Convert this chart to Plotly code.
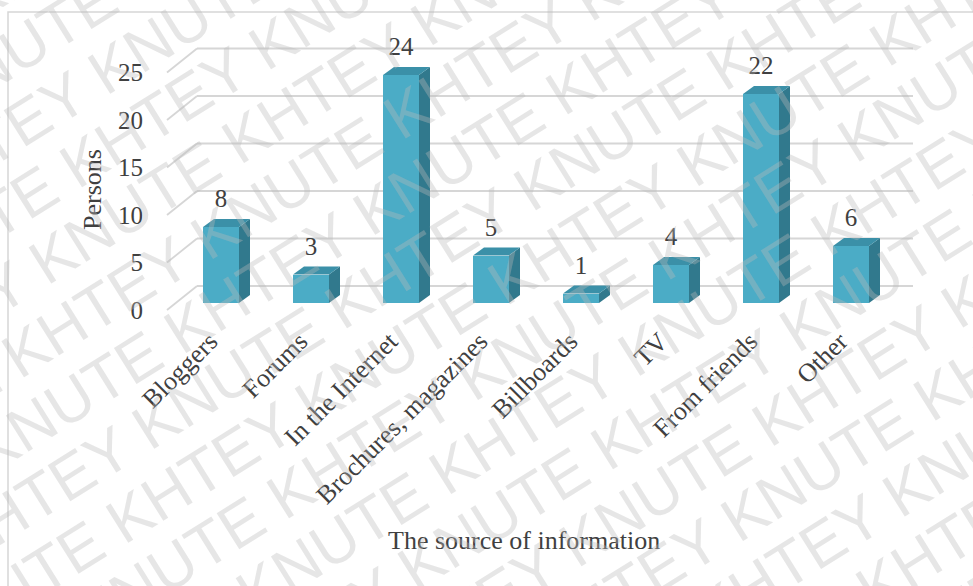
import math
import plotly.graph_objects as go

# ---------------- data ----------------
categories = ["Bloggers", "Forums", "In the Internet", "Brochures, magazines",
              "Billboards", "TV", "From friends", "Other"]
persons = [8, 3, 24, 5, 1, 4, 22, 6]
y_ticks = [0, 5, 10, 15, 20, 25]
y_title = "Persons"
x_title = "The source of information"
watermark_word = "KHTEY KNUTE"

# ---------------- geometry (pixels) ----------------
W, H = 973, 586
PL, PR, PT, PB = 160, 930, 30, 312          # plot area box
X0_PX, X_STEP = 221, 90                      # first bar centre, bar spacing
Y0_PX, Y_UNIT = 303, 9.5                     # bar base (front), px per person


def xd(px):
    return (px - X0_PX) / X_STEP


def yd(py):
    return (Y0_PX - py) / Y_UNIT


def xp(px):
    return (px - PL) / (PR - PL)


def yp(py):
    return (PB - py) / (PB - PT)


bar_w = 36 / X_STEP
bar_dx = 11 / X_STEP
bar_dy = 8 / Y_UNIT
floor_front = yd(310)
floor_back = yd(286)
wall_front_x = xd(167)
wall_back_x = xd(197)
wall_right_x = xd(913)
label_gap = 26 / Y_UNIT
cat_label_shift = -11 / X_STEP

FRONT = "#4bacc6"
SIDE = "#31798d"
TOP = "#3b90a8"
GRID = "#d6d6d6"
TXT = "#404040"
SERIF = "Liberation Serif"

idx = list(range(len(categories)))

fig = go.Figure()

# front faces
fig.add_trace(go.Bar(x=idx, y=persons, width=bar_w,
                     marker=dict(color=FRONT, line=dict(width=0)),
                     hoverinfo="skip"))

# side faces
sx, sy = [], []
for i, v in zip(idx, persons):
    r = i + bar_w / 2
    sx += [r, r + bar_dx, r + bar_dx, r, r, None]
    sy += [0, bar_dy, v + bar_dy, v, 0, None]
fig.add_trace(go.Scatter(x=sx, y=sy, mode="lines", fill="toself",
                         fillcolor=SIDE, line=dict(width=0, color=SIDE),
                         hoverinfo="skip"))

# top faces
tx, ty = [], []
for i, v in zip(idx, persons):
    l = i - bar_w / 2
    r = i + bar_w / 2
    tx += [l, r, r + bar_dx, l + bar_dx, l, None]
    ty += [v, v, v + bar_dy, v + bar_dy, v, None]
fig.add_trace(go.Scatter(x=tx, y=ty, mode="lines", fill="toself",
                         fillcolor=TOP, line=dict(width=0, color=TOP),
                         hoverinfo="skip"))

# data labels
fig.add_trace(go.Scatter(x=idx, y=[v + label_gap for v in persons],
                         mode="text", text=[str(v) for v in persons],
                         textposition="middle center",
                         textfont=dict(family=SERIF, size=25, color=TXT),
                         hoverinfo="skip"))

# gridlines (back wall + side wall diagonals)
shapes = []
for v in y_ticks:
    shapes.append(dict(type="line", xref="x", yref="y", layer="below",
                       x0=wall_back_x, y0=v + floor_back,
                       x1=wall_right_x, y1=v + floor_back,
                       line=dict(color=GRID, width=1.8)))
    shapes.append(dict(type="line", xref="x", yref="y", layer="below",
                       x0=wall_front_x, y0=v + floor_front,
                       x1=wall_back_x, y1=v + floor_back,
                       line=dict(color=GRID, width=1.8)))

# chart border
shapes.append(dict(type="rect", xref="paper", yref="paper", layer="below",
                   x0=xp(8), x1=xp(1000), y0=yp(620), y1=yp(12),
                   line=dict(color=GRID, width=1.5)))

annotations = [
    dict(text=y_title, xref="paper", yref="paper", x=xp(93), y=yp(190),
         xanchor="center", yanchor="middle",
         textangle=-90, showarrow=False,
         font=dict(family=SERIF, size=26, color=TXT)),
    dict(text=x_title, xref="paper", yref="paper", x=xp(524), y=yp(540),
         xanchor="center", yanchor="middle",
         showarrow=False, font=dict(family=SERIF, size=26, color=TXT)),
]

# watermark
ang = 32
ca, sa = math.cos(math.radians(ang)), math.sin(math.radians(ang))
row_text = " ".join([watermark_word] * 6)
for k in range(-10, 11):
    shift = (k % 3) * 150
    cx = W / 2 + k * 65 * sa + shift * ca
    cy = H / 2 + k * 65 * ca - shift * sa
    annotations.append(dict(text=row_text, xref="paper", yref="paper",
                            x=xp(cx), y=yp(cy), textangle=-ang,
                            xanchor="center", yanchor="middle",
                            showarrow=False,
                            font=dict(family="Liberation Sans", size=62,
                                      color="rgba(185,185,185,0.36)")))

fig.update_layout(
    width=W, height=H,
    margin=dict(l=PL, r=W - PR, t=PT, b=H - PB, pad=0),
    paper_bgcolor="white", plot_bgcolor="rgba(0,0,0,0)",
    showlegend=False,
    shapes=shapes, annotations=annotations,
    bargap=0,
    xaxis=dict(range=[xd(PL), xd(PR)], tickmode="array",
               tickvals=[i + cat_label_shift for i in idx],
               ticktext=categories, tickangle=-45, showgrid=False,
               zeroline=False, showline=False, ticks="",
               ticklabelstandoff=8,
               tickfont=dict(family=SERIF, size=26, color=TXT)),
    yaxis=dict(range=[yd(PB), yd(PT)], tickmode="array",
               tickvals=[v + floor_front for v in y_ticks],
               ticktext=[str(v) for v in y_ticks], showgrid=False,
               zeroline=False, showline=False, ticks="",
               ticklabelstandoff=16,
               tickfont=dict(family=SERIF, size=25, color=TXT)),
)

fig.write_html("out.html")
